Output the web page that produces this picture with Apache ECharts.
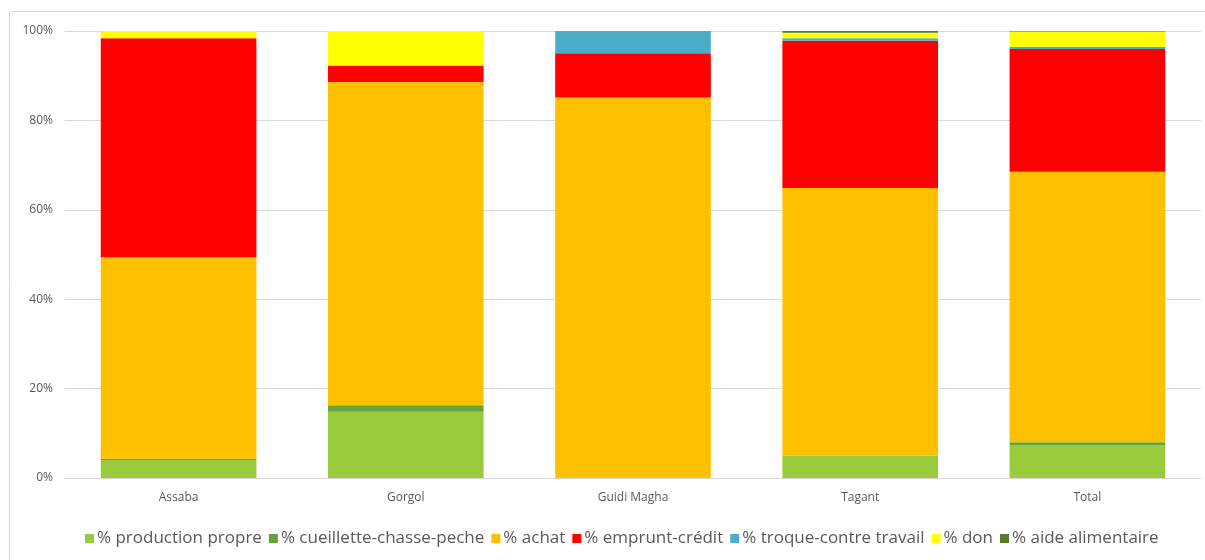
<!DOCTYPE html>
<html>
<head>
<meta charset="utf-8">
<script src="https://cdn.jsdelivr.net/npm/echarts@6/dist/echarts.min.js"></script>
<style>
  html, body { margin: 0; padding: 0; background: #fff; }
  #chart { width: 1205px; height: 560px; }
</style>
</head>
<body>
<div id="chart"></div>
<script>
// Wilayas (and overall total)
const categories = ['Assaba', 'Gorgol', 'Guidi Magha', 'Tagant', 'Total'];

// Share of each food source, in %
const productionPropre   = [4.0, 14.8, 0.0, 5.0, 7.4];
const cueillette         = [0.3, 1.5, 0.0, 0.0, 0.6];
const achat              = [45.1, 72.3, 85.1, 59.9, 60.5];
const empruntCredit      = [49.0, 3.7, 9.9, 32.9, 27.5];
const troqueTravail      = [0.0, 0.0, 5.0, 0.6, 0.5];
const don                = [1.6, 7.7, 0.0, 1.2, 3.4];
const aideAlimentaire    = [0.0, 0.0, 0.0, 0.4, 0.1];

const yTicks = [0, 20, 40, 60, 80, 100];

const seriesDefs = [
  { name: '% production propre', data: productionPropre, color: '#9ACB3C' },
  { name: '% cueillette-chasse-peche', data: cueillette, color: '#62A33D' },
  { name: '% achat', data: achat, color: '#FFC000' },
  { name: '% emprunt-crédit', data: empruntCredit, color: '#FF0000' },
  { name: '% troque-contre travail', data: troqueTravail, color: '#4BAEC8' },
  { name: '% don', data: don, color: '#FFFF00' },
  { name: '% aide alimentaire', data: aideAlimentaire, color: '#5B7B2A' }
];

const chart = echarts.init(document.getElementById('chart'), null, { renderer: 'canvas' });

const font = '"Open Sans", "Liberation Sans", sans-serif';

chart.setOption({
  animation: false,
  backgroundColor: '#fff',
  graphic: [{
    type: 'rect',
    shape: { x: 9.5, y: 11.5, width: 1200, height: 560 },
    style: { fill: 'none', stroke: '#d9d9d9', lineWidth: 1 },
    silent: true
  }],
  grid: { left: 65, right: 4, top: 31, bottom: 82 },
  legend: {
    bottom: 8,
    left: 80,
    itemWidth: 9,
    itemHeight: 9,
    itemGap: 7,
    icon: 'rect',
    textStyle: { color: '#595959', fontSize: 17, fontFamily: font, padding: [0, 0, 0, -2] },
    data: seriesDefs.map(s => s.name)
  },
  xAxis: {
    type: 'category',
    data: categories,
    axisLine: { show: true, lineStyle: { color: '#d9d9d9', width: 1 } },
    axisTick: { show: false },
    axisLabel: { color: '#595959', fontSize: 12, fontFamily: font, margin: 14 }
  },
  yAxis: {
    type: 'value',
    min: 0,
    max: 100,
    interval: 20,
    axisLine: { show: false },
    axisTick: { show: false },
    splitLine: { lineStyle: { color: '#d9d9d9', width: 1 } },
    axisLabel: {
      color: '#595959', fontSize: 12, fontFamily: font, margin: 12,
      formatter: v => (yTicks.includes(v) ? v + '%' : '')
    }
  },
  series: seriesDefs.map(s => ({
    name: s.name,
    type: 'bar',
    stack: 'total',
    barWidth: '68.5%',
    data: s.data,
    itemStyle: { color: s.color }
  }))
});
</script>
</body>
</html>
